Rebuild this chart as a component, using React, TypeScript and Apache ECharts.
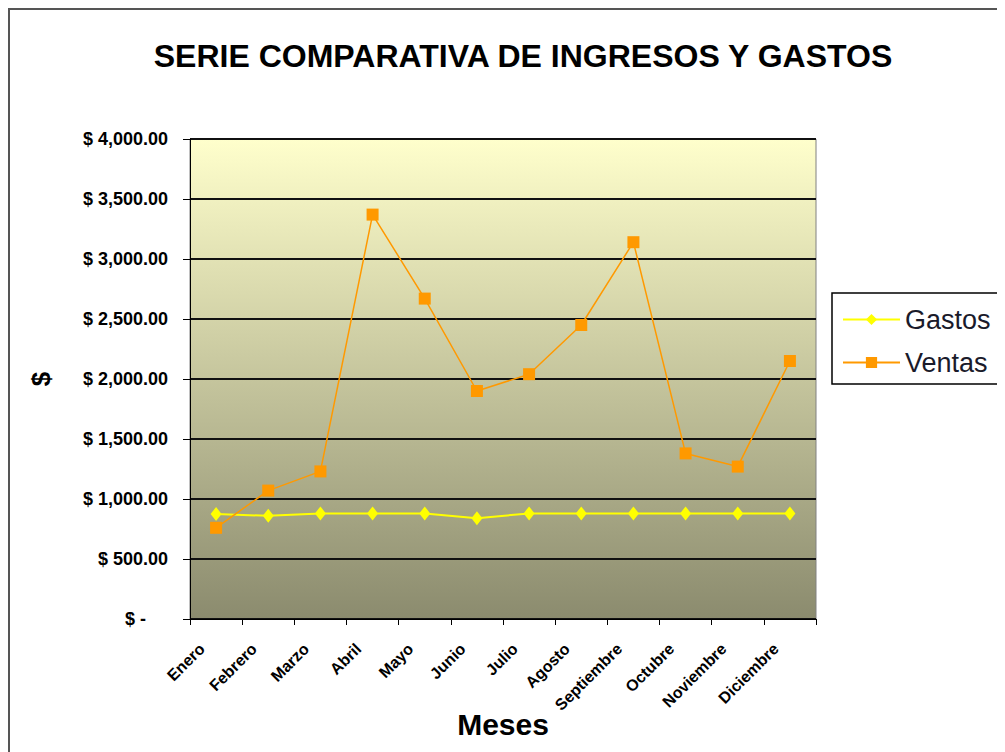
import React, { useEffect, useRef } from "react";
import * as echarts from "echarts";

const categories = [
  "Enero", "Febrero", "Marzo", "Abril", "Mayo", "Junio",
  "Julio", "Agosto", "Septiembre", "Octubre", "Noviembre", "Diciembre",
];
const gastos = [875, 860, 880, 880, 880, 840, 880, 880, 880, 880, 880, 880];
const ventas = [760, 1070, 1230, 3370, 2670, 1900, 2040, 2450, 3140, 1380, 1270, 2150];
const yTickLabels = [
  "$ -", "$ 500.00", "$ 1,000.00", "$ 1,500.00", "$ 2,000.00",
  "$ 2,500.00", "$ 3,000.00", "$ 3,500.00", "$ 4,000.00",
];
const seriesNames = ["Gastos", "Ventas"];
const titleText = "SERIE COMPARATIVA DE INGRESOS Y GASTOS";

const FONT = "'Liberation Sans', Arial, sans-serif";

export default function App() {
  const ref = useRef<HTMLDivElement>(null);
  useEffect(() => {
    document.documentElement.style.overflow = "hidden";
    document.body.style.overflow = "hidden";
    const chart = echarts.init(ref.current!, null, { renderer: "svg" });
    chart.setOption({
      animation: false,
      backgroundColor: "#ffffff",
      title: {
        text: titleText,
        left: 510,
        top: 27,
        textAlign: "center",
        textStyle: { fontFamily: FONT, fontWeight: "bold", fontSize: 32, color: "#000" },
      },
      graphic: [
        {
          type: "rect",
          shape: { x: 1, y: 1, width: 1200, height: 1000 },
          style: { fill: "none", stroke: "#555", lineWidth: 2 },
          silent: true,
        },
      ],
      legend: {
        orient: "vertical",
        left: 824,
        top: 285,
        data: seriesNames,
        backgroundColor: "#ffffff",
        borderColor: "#000",
        borderWidth: 1.5,
        padding: [13, 15, 8, 10],
        itemGap: 16,
        itemWidth: 57,
        itemHeight: 14,
        textStyle: { fontFamily: FONT, fontSize: 27, color: "#1a1a2a" },
      },
      grid: {
        left: 182,
        top: 131,
        width: 626,
        height: 480,
        show: true,
        borderColor: "#808080",
        borderWidth: 1,
        backgroundColor: new echarts.graphic.LinearGradient(0, 0, 0, 1, [
          { offset: 0, color: "#FFFFCC" },
          { offset: 1, color: "#8B8B6E" },
        ]),
      },
      xAxis: {
        type: "category",
        data: categories,
        boundaryGap: true,
        name: "Meses",
        nameLocation: "middle",
        nameGap: 90,
        nameMoveOverlap: false,
        nameTextStyle: { fontFamily: FONT, fontWeight: "bold", fontSize: 30, color: "#000" },
        axisLine: { lineStyle: { color: "#000", width: 1 } },
        axisTick: { show: true, length: 6, lineStyle: { color: "#000" } },
        axisLabel: {
          rotate: 45,
          margin: 13,
          padding: [0, 20, 0, 0],
          interval: 0,
          fontFamily: FONT,
          fontWeight: "bold",
          fontSize: 16,
          color: "#000",
        },
        splitLine: { show: false },
      },
      yAxis: {
        type: "value",
        min: 0,
        max: 4000,
        interval: 500,
        name: "$",
        nameLocation: "middle",
        nameRotate: 90,
        nameGap: 136,
        nameTextStyle: { fontFamily: FONT, fontWeight: "bold", fontSize: 26, color: "#000" },
        axisLine: { show: true, lineStyle: { color: "#000", width: 1 } },
        axisTick: { show: true, length: 7, lineStyle: { color: "#000" } },
        axisLabel: {
          margin: 22,
          fontFamily: FONT,
          fontWeight: "bold",
          fontSize: 18,
          color: "#000",
          formatter: (v: number) => {
            const s = yTickLabels[Math.round(v / 500)];
            return v === 0 ? "{z|" + s + "}" : s;
          },
          rich: {
            z: {
              fontFamily: FONT,
              fontWeight: "bold",
              fontSize: 18,
              color: "#000",
              padding: [0, 22, 0, 0],
            },
          },
        },
        splitLine: { show: true, lineStyle: { color: "#111", width: 2 } },
      },
      series: [
        {
          name: seriesNames[0],
          type: "line",
          data: gastos,
          symbol: "diamond",
          symbolSize: [11, 14],
          lineStyle: { color: "#FFFF00", width: 2 },
          itemStyle: { color: "#FFFF00" },
        },
        {
          name: seriesNames[1],
          type: "line",
          data: ventas,
          symbol: "rect",
          symbolSize: 12,
          lineStyle: { color: "#FF9900", width: 1.5 },
          itemStyle: { color: "#FF9900" },
        },
      ],
    });
    return () => chart.dispose();
  }, []);
  return <div ref={ref} style={{ width: 1024, height: 760 }} />;
}
